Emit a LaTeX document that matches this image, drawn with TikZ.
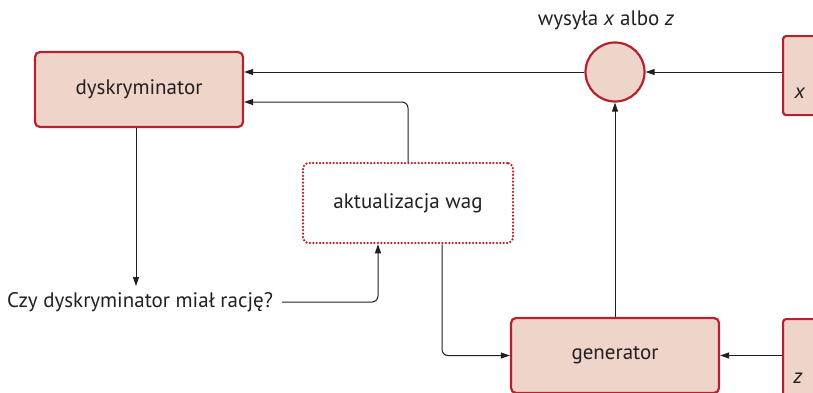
\documentclass[tikz,border=0pt]{standalone}
\usepackage{fontspec}
\setmainfont{PT Sans}
\usetikzlibrary{arrows.meta,calc}
\definecolor{boxfill}{HTML}{EFD5C9}
\definecolor{boxedge}{HTML}{B7202E}
\definecolor{lineink}{HTML}{231F20}
\tikzset{
  block/.style={draw=boxedge, fill=boxfill, line width=2.2pt, rounded corners=5pt,
    minimum width=208pt, minimum height=75pt, inner sep=0pt, text=lineink},
  sidebox/.style={draw=boxedge, fill=boxfill, line width=2.2pt, rounded corners=3pt,
    anchor=north west, minimum width=90pt, inner sep=0pt},
  joiner/.style={circle, draw=boxedge, fill=boxfill, line width=2.2pt, minimum size=59pt, inner sep=0pt},
  updbox/.style={draw=boxedge, line width=2.5pt, line cap=round, dash pattern=on 0pt off 3.4pt,
    rounded corners=6pt, fill=white, minimum width=210pt, minimum height=80pt, inner sep=0pt, text=lineink},
  caption/.style={text=lineink, inner sep=2pt},
  conn/.style={draw=lineink, line width=1pt, -{Triangle[length=9pt,width=6pt]}},
}
\begin{document}
\begin{tikzpicture}[x=1pt,y=-1pt, font=\fontsize{21}{25}\selectfont]
\useasboundingbox (0,0) rectangle (813,392);
\clip (0,0) rectangle (813,392);

% main blocks
\node[block] (d) at (139,89.5) {dyskryminator};
\node[block] (g) at (615,355.5) {generator};
\node[updbox] (aw) at (408,203) {aktualizacja wag};
\node[joiner] (c) at (615,72) {};

% input boxes cut by the right margin
\node[sidebox, minimum height=79pt] (xb) at (782,35) {};
\node[sidebox, minimum height=90pt] (zb) at (782,318) {};
\node[caption] (xt) at (800,93) {\textit{x}};
\node[caption] (zt) at (798,378) {\textit{z}};

% captions
\node[caption] (lab) at (606,20) {wysyła \textit{x} albo \textit{z}};
\node[caption, anchor=west] (q) at (5,302) {Czy dyskryminator miał rację?};

% connectors
\draw[conn] (c.east -| xb.west) -- (c.east);
\draw[conn] (c.west) -- (c.west -| d.east);
\draw[conn] (c.south |- g.north) -- (c.south);
\draw[conn, rounded corners=6pt] (aw.north) |- ($(d.east)+(0,12.5)$);
\draw[conn] ($(d.south)+(-3,0)$) -- ++(0,158);
\draw[conn, rounded corners=6pt] ($(q.east)+(7,0)$) -| ($(aw.south)+(-30,0)$);
\draw[conn, rounded corners=6pt] ($(aw.south)+(34,0)$) |- (g.west);
\draw[conn] (g.east -| zb.west) -- (g.east);
\end{tikzpicture}
\end{document}
